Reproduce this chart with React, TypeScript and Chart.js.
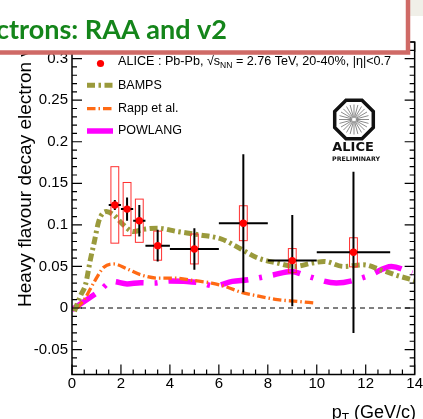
import React, { useEffect, useRef } from "react";
import { Chart, registerables } from "chart.js";

Chart.register(...registerables);

// ---------- data ----------
const alicePt = [1.75, 2.25, 2.75, 3.5, 5.0, 7.0, 9.0, 11.5];
const aliceV2 = [0.124, 0.119, 0.105, 0.075, 0.071, 0.102, 0.057, 0.067];
const aliceStat = [0.006, 0.014, 0.019, 0.019, 0.025, 0.083, 0.055, 0.097];
const aliceXErr = [0.25, 0.25, 0.25, 0.5, 1.0, 1.0, 1.0, 1.5];
const aliceSys = [0.046, 0.032, 0.026, 0.0175, 0.018, 0.021, 0.0145, 0.0175];

const bampsPt = [0.1, 0.35, 0.55, 0.75, 0.9, 1.1, 1.4, 1.7, 2.1, 2.5, 3.0, 3.5, 4.3, 5.2, 6.1, 6.9, 7.6, 8.4, 9.1, 9.8, 10.3, 11.1, 11.9, 12.6, 13.3, 14.0];
const bampsV2 = [-0.004, 0.015, 0.028, 0.058, 0.078, 0.105, 0.116, 0.112, 0.1, 0.092, 0.095, 0.096, 0.092, 0.088, 0.083, 0.071, 0.06, 0.054, 0.05, 0.054, 0.056, 0.05, 0.052, 0.046, 0.039, 0.033];

const rappPt = [0.2, 0.5, 0.9, 1.3, 1.7, 2.25, 2.8, 3.5, 4.2, 5.0, 5.7, 6.35, 6.9, 7.5, 8.4, 9.2, 9.9];
const rappV2 = [0.0, 0.01, 0.031, 0.049, 0.053, 0.047, 0.04, 0.036, 0.036, 0.033, 0.03, 0.025, 0.019, 0.015, 0.01, 0.008, 0.006];

const powPt = [0.0, 0.6, 1.1, 1.65, 2.25, 2.8, 3.35, 4.0, 4.7, 5.3, 5.8, 6.55, 7.2, 8.25, 8.95, 9.6, 10.8, 12.1, 13.05, 13.9];
const powV2 = [-0.002, 0.01, 0.02, 0.032, 0.029, 0.0305, 0.03, 0.0325, 0.032, 0.03, 0.0265, 0.032, 0.034, 0.04, 0.044, 0.0385, 0.03, 0.0385, 0.05, 0.042];

const xTicks = [0, 2, 4, 6, 8, 10, 12, 14];
const xTickLabels = ["0", "2", "4", "6", "8", "10", "12", "14"];
const yTicks = [-0.05, 0, 0.05, 0.1, 0.15, 0.2, 0.25, 0.3];
const yTickLabels = ["-0.05", "0", "0.05", "0.1", "0.15", "0.2", "0.25", "0.3"];

const legendLabels = ["BAMPS", "Rapp et al.", "POWLANG"];

// ---------- style ----------
const FONT = '"Liberation Sans", Arial, Helvetica, sans-serif';
const C_BAMPS = "#9a9a3c";
const C_RAPP = "#ff6a14";
const C_POW = "#ff00ff";
const DASH_BAMPS = [8, 3.5, 2.5, 3.5];
const DASH_RAPP = [8.5, 3, 1.5, 3];
const DASH_POW = [28, 11, 3, 11];
const SYS_HALF_W = 0.16;

const overlay = {
  id: "overlay",
  beforeDatasetsDraw(chart: any) {
    const { ctx, chartArea: a, scales } = chart;
    const y0 = scales.y.getPixelForValue(0);
    ctx.save();
    ctx.strokeStyle = "#000";
    ctx.lineWidth = 1;
    ctx.setLineDash([5, 4]);
    ctx.beginPath();
    ctx.moveTo(a.left, y0);
    ctx.lineTo(a.right, y0);
    ctx.stroke();
    ctx.restore();
  },
  beforeDatasetDraw(chart: any, args: any) {
    if (args.index !== 0) return;
    const { ctx, scales } = chart;
    const x = scales.x, y = scales.y;
    ctx.save();
    ctx.strokeStyle = "#ff3030";
    ctx.lineWidth = 1;
    for (let i = 0; i < alicePt.length; i++) {
      const xl = x.getPixelForValue(alicePt[i] - SYS_HALF_W);
      const xr = x.getPixelForValue(alicePt[i] + SYS_HALF_W);
      const yt = y.getPixelForValue(aliceV2[i] + aliceSys[i]);
      const yb = y.getPixelForValue(aliceV2[i] - aliceSys[i]);
      ctx.strokeRect(xl, yt, xr - xl, yb - yt);
    }
    ctx.strokeStyle = "#000";
    ctx.lineWidth = 2;
    for (let i = 0; i < alicePt.length; i++) {
      const px = x.getPixelForValue(alicePt[i]);
      const py = y.getPixelForValue(aliceV2[i]);
      ctx.beginPath();
      ctx.moveTo(px, y.getPixelForValue(aliceV2[i] + aliceStat[i]));
      ctx.lineTo(px, y.getPixelForValue(aliceV2[i] - aliceStat[i]));
      ctx.moveTo(x.getPixelForValue(alicePt[i] - aliceXErr[i]), py);
      ctx.lineTo(x.getPixelForValue(alicePt[i] + aliceXErr[i]), py);
      ctx.stroke();
    }
    ctx.restore();
  },
  afterDraw(chart: any) {
    const { ctx, chartArea: a, scales } = chart;
    const x = scales.x, y = scales.y;
    ctx.save();
    // frame
    ctx.strokeStyle = "#000";
    ctx.lineWidth = 1.5;
    ctx.setLineDash([]);
    ctx.strokeRect(a.left, a.top, a.right - a.left, a.bottom - a.top);
    // ticks
    ctx.lineWidth = 1.2;
    ctx.beginPath();
    for (let k = -8; k <= 32; k++) {
      const v = k / 100;
      const len = k % 5 === 0 ? 10 : 5;
      const py = y.getPixelForValue(v);
      ctx.moveTo(a.left, py);
      ctx.lineTo(a.left + len, py);
      ctx.moveTo(a.right, py);
      ctx.lineTo(a.right - len, py);
    }
    for (let k = 0; k <= 28; k++) {
      const v = k / 2;
      const len = k % 4 === 0 ? 10 : 5;
      const px = x.getPixelForValue(v);
      ctx.moveTo(px, a.bottom);
      ctx.lineTo(px, a.bottom - len);
      ctx.moveTo(px, a.top);
      ctx.lineTo(px, a.top + len);
    }
    ctx.stroke();

    // y title
    ctx.save();
    ctx.translate(31, 307);
    ctx.rotate(-Math.PI / 2);
    ctx.fillStyle = "#000";
    ctx.font = `19px ${FONT}`;
    ctx.textAlign = "left";
    ctx.textBaseline = "alphabetic";
    ctx.fillText("Heavy flavour decay electron v", 0, 0);
    const w = ctx.measureText("Heavy flavour decay electron v").width;
    ctx.font = `13px ${FONT}`;
    ctx.fillText("2", w, 4);
    ctx.restore();

    // x title
    ctx.fillStyle = "#000";
    ctx.textBaseline = "alphabetic";
    ctx.font = `18px ${FONT}`;
    ctx.textAlign = "right";
    const rest = " (GeV/c)";
    ctx.fillText(rest, 416, 418);
    const rw = ctx.measureText(rest).width;
    ctx.font = `12px ${FONT}`;
    const tw = ctx.measureText("T").width;
    ctx.fillText("T", 416 - rw, 422);
    ctx.font = `18px ${FONT}`;
    ctx.fillText("p", 416 - rw - tw, 418);

    // legend
    ctx.textAlign = "left";
    ctx.textBaseline = "middle";
    const lx0 = 87, lx1 = 113, tx = 118;
    const rows = [62, 85.3, 108.7, 131];
    ctx.fillStyle = "#ff0000";
    ctx.beginPath();
    ctx.arc(100.5, 63.5, 3.6, 0, Math.PI * 2);
    ctx.fill();
    ctx.fillStyle = "#000";
    let cx = tx;
    const put = (s: string, size: number, dy: number) => {
      ctx.font = `${size}px ${FONT}`;
      ctx.fillText(s, cx, rows[0] + dy);
      cx += ctx.measureText(s).width;
    };
    put("ALICE : Pb-Pb, ", 12.6, 0);
    put("\u221A", 12.6, 0);
    put("s", 12.6, 0);
    put("NN", 8.5, 4);
    put(" = 2.76 TeV, 20-40%, |\u03B7|<0.7", 12.6, 0);
    const styles = [
      { c: C_BAMPS, w: 5, d: DASH_BAMPS },
      { c: C_RAPP, w: 3.3, d: DASH_RAPP },
      { c: C_POW, w: 5.5, d: DASH_POW },
    ];
    for (let i = 0; i < 3; i++) {
      const ry = rows[i + 1];
      ctx.strokeStyle = styles[i].c;
      ctx.lineWidth = styles[i].w;
      ctx.setLineDash(styles[i].d);
      ctx.lineCap = "butt";
      ctx.beginPath();
      ctx.moveTo(lx0, ry);
      ctx.lineTo(lx1, ry);
      ctx.stroke();
      ctx.setLineDash([]);
      ctx.fillStyle = "#000";
      ctx.font = `12.5px ${FONT}`;
      ctx.fillText(legendLabels[i], tx, ry);
    }

    // ALICE logo
    const ox = 354, oy = 119.5;
    ctx.strokeStyle = "#8a8a8a";
    ctx.lineWidth = 1;
    ctx.beginPath();
    for (let k = 0; k < 24; k++) {
      const ang = (k * Math.PI * 2) / 24;
      ctx.moveTo(ox + 2 * Math.cos(ang), oy + 2 * Math.sin(ang));
      ctx.lineTo(ox + 15 * Math.cos(ang), oy + 15 * Math.sin(ang));
    }
    ctx.stroke();
    ctx.strokeStyle = "#111";
    ctx.lineWidth = 3.5;
    ctx.beginPath();
    const R = 19.3 / Math.cos(Math.PI / 8);
    for (let k = 0; k <= 8; k++) {
      const ang = Math.PI / 8 + (k * Math.PI) / 4;
      const px = ox + R * Math.cos(ang), py = oy + R * Math.sin(ang);
      if (k === 0) ctx.moveTo(px, py);
      else ctx.lineTo(px, py);
    }
    ctx.closePath();
    ctx.stroke();
    ctx.fillStyle = "#111";
    ctx.textAlign = "center";
    ctx.textBaseline = "alphabetic";
    ctx.font = `bold 13px "DejaVu Sans", sans-serif`;
    ctx.fillText("ALICE", ox - 1, 151);
    ctx.font = `bold 6.3px "DejaVu Sans", sans-serif`;
    ctx.fillText("PRELIMINARY", ox + 2, 161);

    // slide background piece & title box
    ctx.fillStyle = "#f0efe8";
    ctx.fillRect(410, 0, 13, 16);
    ctx.fillStyle = "#ffffff";
    ctx.fillRect(-10, -10, 418, 62.5);
    ctx.strokeStyle = "#cf6a66";
    ctx.lineWidth = 4.5;
    ctx.strokeRect(-10, -10, 418, 62.5);
    ctx.fillStyle = "#14851a";
    ctx.font = `bold 27px Lato, "Open Sans", sans-serif`;
    ctx.textAlign = "right";
    ctx.textBaseline = "alphabetic";
    ctx.fillText("ctrons: RAA and v2", 227, 38.5);
    ctx.restore();
  },
};

export default function App() {
  const ref = useRef<HTMLCanvasElement>(null);
  useEffect(() => {
    document.body.style.margin = "0";
    const toPts = (xs: number[], ys: number[]) => xs.map((v, i) => ({ x: v, y: ys[i] }));
    const chart = new Chart(ref.current!, {
      type: "scatter",
      data: {
        datasets: [
          {
            label: "ALICE",
            data: toPts(alicePt, aliceV2),
            backgroundColor: "#ff0000",
            borderColor: "#ff0000",
            pointRadius: 3.7,
            pointBorderWidth: 0,
            order: 0,
          },
          {
            type: "line",
            label: "BAMPS",
            data: toPts(bampsPt, bampsV2),
            borderColor: C_BAMPS,
            borderWidth: 5,
            borderDash: DASH_BAMPS,
            pointRadius: 0,
            cubicInterpolationMode: "monotone",
            fill: false,
            order: 1,
          },
          {
            type: "line",
            label: "Rapp et al.",
            data: toPts(rappPt, rappV2),
            borderColor: C_RAPP,
            borderWidth: 3.3,
            borderDash: DASH_RAPP,
            pointRadius: 0,
            cubicInterpolationMode: "monotone",
            fill: false,
            order: 1,
          },
          {
            type: "line",
            label: "POWLANG",
            data: toPts(powPt, powV2),
            borderColor: C_POW,
            borderWidth: 5.5,
            borderDash: DASH_POW,
            pointRadius: 0,
            cubicInterpolationMode: "monotone",
            fill: false,
            order: 1,
          },
        ] as any,
      },
      options: {
        animation: false,
        responsive: false,
        devicePixelRatio: 1,
        layout: { padding: { left: 0, right: 7, top: 42, bottom: 0 } },
        plugins: { legend: { display: false }, tooltip: { enabled: false } },
        scales: {
          x: {
            type: "linear",
            min: 0,
            max: 14,
            grid: { display: false, drawTicks: false },
            border: { display: false },
            afterBuildTicks: (s: any) => {
              s.ticks = xTicks.map((v) => ({ value: v }));
            },
            afterFit: (s: any) => {
              s.height = 44.5;
            },
            ticks: {
              autoSkip: false,
              maxRotation: 0,
              padding: 0,
              color: "#000",
              font: { family: FONT, size: 15 },
              callback: (v: any) => xTickLabels[xTicks.indexOf(Number(v))] ?? "",
            },
          },
          y: {
            type: "linear",
            min: -0.08,
            max: 0.32,
            grid: { display: false, drawTicks: false },
            border: { display: false },
            afterBuildTicks: (s: any) => {
              s.ticks = yTicks.map((v) => ({ value: v }));
            },
            afterFit: (s: any) => {
              s.width = 72;
            },
            ticks: {
              autoSkip: false,
              padding: 4,
              color: "#000",
              font: { family: FONT, size: 15 },
              callback: (v: any) => {
                const i = yTicks.findIndex((t) => Math.abs(t - Number(v)) < 1e-9);
                return i >= 0 ? yTickLabels[i] : "";
              },
            },
          },
        },
      },
      plugins: [overlay],
    });
    return () => chart.destroy();
  }, []);
  return (
    <div style={{ position: "absolute", left: 0, top: 0, width: 423, height: 419, background: "#fff" }}>
      <canvas ref={ref} width={423} height={419} style={{ width: 423, height: 419, display: "block" }} />
    </div>
  );
}
